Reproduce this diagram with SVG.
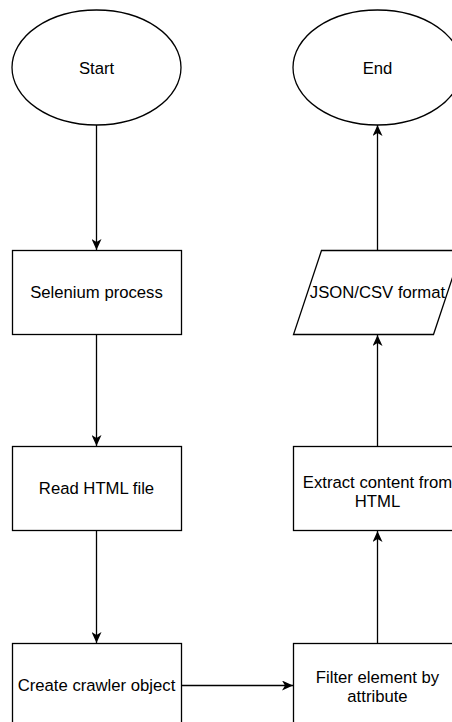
<svg xmlns="http://www.w3.org/2000/svg" width="452" height="722" viewBox="0 0 452 722">
<style>
.shape{fill:#fff;stroke:#000;stroke-width:1.3}
.lbl{font-family:"Liberation Sans",Arial,sans-serif;font-size:16.7px;fill:#000;text-anchor:middle}
.edge{fill:none;stroke:#000;stroke-width:1.3}
</style>
<defs>
<marker id="arr" viewBox="0 0 11 10" refX="11" refY="5" markerWidth="11" markerHeight="10" markerUnits="userSpaceOnUse" orient="auto">
<path d="M0,0 L11,5 L0,10 L3,5 Z" fill="#000"/>
</marker>
</defs>
<rect width="452" height="722" fill="#fff"/>
<g id="start">
<ellipse class="shape" cx="96.5" cy="67.5" rx="84.5" ry="57.5"/>
<text class="lbl" x="96.5" y="74">Start</text>
</g>
<g id="end">
<ellipse class="shape" cx="377.5" cy="67.5" rx="84.5" ry="57.5"/>
<text class="lbl" x="377.5" y="74">End</text>
</g>
<g id="selenium">
<rect class="shape" x="12.5" y="250.5" width="169" height="84"/>
<text class="lbl" x="96.5" y="298">Selenium process</text>
</g>
<g id="readhtml">
<rect class="shape" x="12.5" y="446.5" width="169" height="84"/>
<text class="lbl" x="96.5" y="494">Read HTML file</text>
</g>
<g id="crawler">
<rect class="shape" x="12.5" y="643.5" width="169" height="84"/>
<text class="lbl" x="96.5" y="691">Create crawler object</text>
</g>
<g id="jsoncsv">
<path class="shape" d="M321.5,250.5 L461.5,250.5 L433.5,334.5 L293.5,334.5 Z"/>
<text class="lbl" x="377.5" y="298">JSON/CSV format</text>
</g>
<g id="extract">
<rect class="shape" x="293.5" y="446.5" width="169" height="84"/>
<text class="lbl" x="377.5" y="487.5">Extract content from</text>
<text class="lbl" x="377.5" y="507">HTML</text>
</g>
<g id="filter">
<rect class="shape" x="293.5" y="643.5" width="169" height="84"/>
<text class="lbl" x="377.5" y="682.5">Filter element by</text>
<text class="lbl" x="377.5" y="702">attribute</text>
</g>
<g id="connectors">
<line class="edge" x1="96.5" y1="125" x2="96.5" y2="250" marker-end="url(#arr)"/>
<line class="edge" x1="96.5" y1="334.5" x2="96.5" y2="446" marker-end="url(#arr)"/>
<line class="edge" x1="96.5" y1="530.5" x2="96.5" y2="643" marker-end="url(#arr)"/>
<line class="edge" x1="181.5" y1="685.5" x2="293" y2="685.5" marker-end="url(#arr)"/>
<line class="edge" x1="377.5" y1="643.5" x2="377.5" y2="531" marker-end="url(#arr)"/>
<line class="edge" x1="377.5" y1="446.5" x2="377.5" y2="335" marker-end="url(#arr)"/>
<line class="edge" x1="377.5" y1="250.5" x2="377.5" y2="125" marker-end="url(#arr)"/>
</g>
</svg>
